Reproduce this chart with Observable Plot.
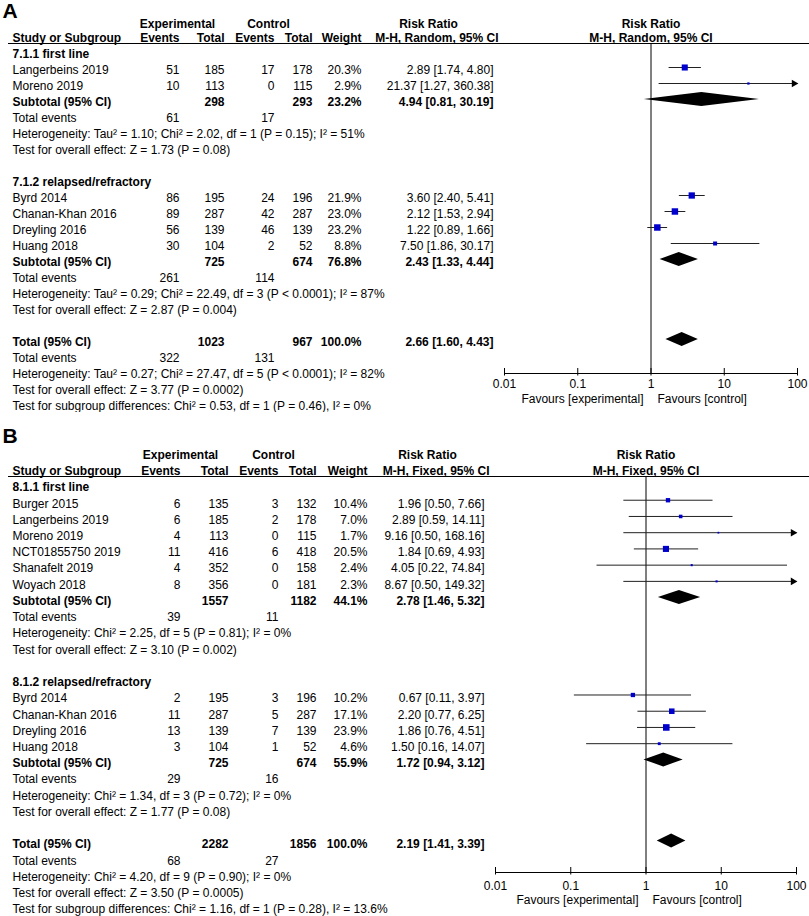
<!DOCTYPE html>
<html><head><meta charset="utf-8">
<script src="https://cdn.jsdelivr.net/npm/d3@7"></script>
<script src="https://cdn.jsdelivr.net/npm/@observablehq/plot@0.6"></script>
<style>
body{margin:0;background:#fff;}
#chart svg{display:block;}
</style></head><body><div id="chart"></div>
<script>
// ---------- Panel A (M-H, Random) ----------
const aMethod = "M-H, Random, 95% CI";
const aGroups = ["7.1.1 first line", "7.1.2 relapsed/refractory"];
const aStudies = ["Langerbeins 2019", "Moreno 2019", "Byrd 2014", "Chanan-Khan 2016", "Dreyling 2016", "Huang 2018"];
const aStudyGroup = [0, 0, 1, 1, 1, 1];
const aExpEvents = [51, 10, 86, 89, 56, 30];
const aExpTotal = [185, 113, 195, 287, 139, 104];
const aCtlEvents = [17, 0, 24, 42, 46, 2];
const aCtlTotal = [178, 115, 196, 287, 139, 52];
const aWeight = [20.3, 2.9, 21.9, 23.0, 23.2, 8.8];
const aRR = [2.89, 21.37, 3.60, 2.12, 1.22, 7.50];
const aLo = [1.74, 1.27, 2.40, 1.53, 0.89, 1.86];
const aHi = [4.80, 360.38, 5.41, 2.94, 1.66, 30.17];
const aSubExpTotal = [298, 725];
const aSubCtlTotal = [293, 674];
const aSubWeight = [23.2, 76.8];
const aSubRR = [4.94, 2.43];
const aSubLo = [0.81, 1.33];
const aSubHi = [30.19, 4.44];
const aSubExpEvents = [61, 261];
const aSubCtlEvents = [17, 114];
const aSubHet = ["Heterogeneity: Tau² = 1.10; Chi² = 2.02, df = 1 (P = 0.15); I² = 51%",
                 "Heterogeneity: Tau² = 0.29; Chi² = 22.49, df = 3 (P < 0.0001); I² = 87%"];
const aSubTest = ["Test for overall effect: Z = 1.73 (P = 0.08)", "Test for overall effect: Z = 2.87 (P = 0.004)"];
const aTotExpTotal = 1023, aTotCtlTotal = 967, aTotWeight = 100.0;
const aTotRR = 2.66, aTotLo = 1.60, aTotHi = 4.43;
const aTotExpEvents = 322, aTotCtlEvents = 131;
const aTotNotes = ["Heterogeneity: Tau² = 0.27; Chi² = 27.47, df = 5 (P < 0.0001); I² = 82%",
                   "Test for overall effect: Z = 3.77 (P = 0.0002)",
                   "Test for subgroup differences: Chi² = 0.53, df = 1 (P = 0.46), I² = 0%"];

// ---------- Panel B (M-H, Fixed) ----------
const bMethod = "M-H, Fixed, 95% CI";
const bGroups = ["8.1.1 first line", "8.1.2 relapsed/refractory"];
const bStudies = ["Burger 2015", "Langerbeins 2019", "Moreno 2019", "NCT01855750 2019", "Shanafelt 2019", "Woyach 2018",
                  "Byrd 2014", "Chanan-Khan 2016", "Dreyling 2016", "Huang 2018"];
const bStudyGroup = [0, 0, 0, 0, 0, 0, 1, 1, 1, 1];
const bExpEvents = [6, 6, 4, 11, 4, 8, 2, 11, 13, 3];
const bExpTotal = [135, 185, 113, 416, 352, 356, 195, 287, 139, 104];
const bCtlEvents = [3, 2, 0, 6, 0, 0, 3, 5, 7, 1];
const bCtlTotal = [132, 178, 115, 418, 158, 181, 196, 287, 139, 52];
const bWeight = [10.4, 7.0, 1.7, 20.5, 2.4, 2.3, 10.2, 17.1, 23.9, 4.6];
const bRR = [1.96, 2.89, 9.16, 1.84, 4.05, 8.67, 0.67, 2.20, 1.86, 1.50];
const bLo = [0.50, 0.59, 0.50, 0.69, 0.22, 0.50, 0.11, 0.77, 0.76, 0.16];
const bHi = [7.66, 14.11, 168.16, 4.93, 74.84, 149.32, 3.97, 6.25, 4.51, 14.07];
const bSubExpTotal = [1557, 725];
const bSubCtlTotal = [1182, 674];
const bSubWeight = [44.1, 55.9];
const bSubRR = [2.78, 1.72];
const bSubLo = [1.46, 0.94];
const bSubHi = [5.32, 3.12];
const bSubExpEvents = [39, 29];
const bSubCtlEvents = [11, 16];
const bSubHet = ["Heterogeneity: Chi² = 2.25, df = 5 (P = 0.81); I² = 0%",
                 "Heterogeneity: Chi² = 1.34, df = 3 (P = 0.72); I² = 0%"];
const bSubTest = ["Test for overall effect: Z = 3.10 (P = 0.002)", "Test for overall effect: Z = 1.77 (P = 0.08)"];
const bTotExpTotal = 2282, bTotCtlTotal = 1856, bTotWeight = 100.0;
const bTotRR = 2.19, bTotLo = 1.41, bTotHi = 3.39;
const bTotExpEvents = 68, bTotCtlEvents = 27;
const bTotNotes = ["Heterogeneity: Chi² = 4.20, df = 9 (P = 0.90); I² = 0%",
                   "Test for overall effect: Z = 3.50 (P = 0.0005)",
                   "Test for subgroup differences: Chi² = 1.16, df = 1 (P = 0.28), I² = 13.6%"];

// ---------- shared labels ----------
const headerCols = ["Study or Subgroup", "Events", "Total", "Events", "Total", "Weight"];
const tickValues = [0.01, 0.1, 1, 10, 100];
const tickLabels = ["0.01", "0.1", "1", "10", "100"];
const favours = ["Favours [experimental]", "Favours [control]"];

const FONT = "'Liberation Sans', Arial, Helvetica, sans-serif";

function pack(p) {
  const g = n => eval(p + n);
  return {
    method: g("Method"), groups: g("Groups"), studies: g("Studies"), studyGroup: g("StudyGroup"),
    expE: g("ExpEvents"), expT: g("ExpTotal"), ctlE: g("CtlEvents"), ctlT: g("CtlTotal"),
    w: g("Weight"), rr: g("RR"), lo: g("Lo"), hi: g("Hi"),
    subExpT: g("SubExpTotal"), subCtlT: g("SubCtlTotal"), subW: g("SubWeight"),
    subRR: g("SubRR"), subLo: g("SubLo"), subHi: g("SubHi"),
    subExpE: g("SubExpEvents"), subCtlE: g("SubCtlEvents"), subHet: g("SubHet"), subTest: g("SubTest"),
    totExpT: g("TotExpTotal"), totCtlT: g("TotCtlTotal"), totW: g("TotWeight"),
    totRR: g("TotRR"), totLo: g("TotLo"), totHi: g("TotHi"),
    totExpE: g("TotExpEvents"), totCtlE: g("TotCtlEvents"), totNotes: g("TotNotes")
  };
}

const ciTxt = (rr, lo, hi) => `${rr.toFixed(2)} [${lo.toFixed(2)}, ${hi.toFixed(2)}]`;

function buildRows(D) {
  const rows = [];
  let i = 0;
  D.groups.forEach((g, gi) => {
    rows.push({i: i++, kind: "group", label: g});
    D.studies.forEach((s, si) => {
      if (D.studyGroup[si] !== gi) return;
      rows.push({i: i++, kind: "study", label: s,
        expE: String(D.expE[si]), expT: String(D.expT[si]), ctlE: String(D.ctlE[si]), ctlT: String(D.ctlT[si]),
        wTxt: D.w[si].toFixed(1) + "%", w: D.w[si], rr: D.rr[si], lo: D.lo[si], hi: D.hi[si],
        ciTxt: ciTxt(D.rr[si], D.lo[si], D.hi[si])});
    });
    rows.push({i: i++, kind: "subtotal", label: "Subtotal (95% CI)",
      expT: String(D.subExpT[gi]), ctlT: String(D.subCtlT[gi]), wTxt: D.subW[gi].toFixed(1) + "%",
      rr: D.subRR[gi], lo: D.subLo[gi], hi: D.subHi[gi], ciTxt: ciTxt(D.subRR[gi], D.subLo[gi], D.subHi[gi])});
    rows.push({i: i++, kind: "events", label: "Total events", expE: String(D.subExpE[gi]), ctlE: String(D.subCtlE[gi])});
    rows.push({i: i++, kind: "note", label: D.subHet[gi]});
    rows.push({i: i++, kind: "note", label: D.subTest[gi]});
    i++; // blank row
  });
  rows.push({i: i++, kind: "total", label: "Total (95% CI)",
    expT: String(D.totExpT), ctlT: String(D.totCtlT), wTxt: D.totW.toFixed(1) + "%",
    rr: D.totRR, lo: D.totLo, hi: D.totHi, ciTxt: ciTxt(D.totRR, D.totLo, D.totHi)});
  rows.push({i: i++, kind: "events", label: "Total events", expE: String(D.totExpE), ctlE: String(D.totCtlE)});
  D.totNotes.forEach(n => rows.push({i: i++, kind: "note", label: n}));
  return rows;
}

function makePanel(D, L) {
  const rows = buildRows(D);
  const R = px => (px - L.rowTop) / L.rowH;
  const boldKinds = new Set(["group", "subtotal", "total"]);
  const reg = rows.filter(d => !boldKinds.has(d.kind));
  const bld = rows.filter(d => boldKinds.has(d.kind));
  const studies = rows.filter(d => d.kind === "study");
  const pooled = rows.filter(d => d.kind === "subtotal" || d.kind === "total");
  const xMax = 100;
  const h = 7 / L.rowH;
  const diamonds = pooled.flatMap(d => [
    {id: d.i, y: d.i - h, x1: d.rr, x2: d.rr},
    {id: d.i, y: d.i, x1: d.lo, x2: d.hi},
    {id: d.i, y: d.i + h, x1: d.rr, x2: d.rr}
  ]);

  const marks = [];
  marks.push(Plot.text([L.letter], {frameAnchor: "top-left", textAnchor: "start", lineAnchor: "top",
    dx: 2, dy: L.letterTop, fontSize: 21, fontWeight: "bold"}));
  marks.push(Plot.text(["Experimental"], {frameAnchor: "left", dx: L.expCenter, y: R(L.hdr1), textAnchor: "middle", fontWeight: "bold", fontSize: 12}));
  marks.push(Plot.text(["Control"], {frameAnchor: "left", dx: L.ctlCenter, y: R(L.hdr1), textAnchor: "middle", fontWeight: "bold", fontSize: 12}));
  marks.push(Plot.text(["Risk Ratio"], {frameAnchor: "left", dx: L.rrCenter, y: R(L.hdr1), textAnchor: "middle", fontWeight: "bold", fontSize: 12}));
  marks.push(Plot.text([D.method], {frameAnchor: "left", dx: L.rrHdrRight, y: R(L.hdr2), textAnchor: "end", fontWeight: "bold", fontSize: 12}));
  const hdrX = [L.cols.name, L.cols.expE, L.cols.expT, L.cols.ctlE, L.cols.ctlT, L.cols.w];
  headerCols.forEach((t, k) => {
    marks.push(Plot.text([t], {frameAnchor: "left", dx: hdrX[k], y: R(L.hdr2), textAnchor: k === 0 ? "start" : "end", fontWeight: "bold", fontSize: 12}));
  });
  marks.push(Plot.text(["Risk Ratio"], {x: 1, y: R(L.hdr1), textAnchor: "middle", fontWeight: "bold", fontSize: 12}));
  marks.push(Plot.text([D.method], {x: 1, y: R(L.hdr2), textAnchor: "middle", fontWeight: "bold", fontSize: 12}));
  marks.push(Plot.ruleY([R(L.underline)], {insetLeft: 8, stroke: "black"}));

  marks.push(Plot.text(reg, {y: "i", text: "label", frameAnchor: "left", dx: L.cols.name, textAnchor: "start", fontSize: 12}));
  marks.push(Plot.text(bld, {y: "i", text: "label", frameAnchor: "left", dx: L.cols.name, textAnchor: "start", fontSize: 12, fontWeight: "bold"}));
  for (const [key, x] of [["expE", L.cols.expE], ["expT", L.cols.expT], ["ctlE", L.cols.ctlE], ["ctlT", L.cols.ctlT], ["wTxt", L.cols.w], ["ciTxt", L.cols.ci]]) {
    for (const [data, fw] of [[reg, "normal"], [bld, "bold"]]) {
      const sub = data.filter(d => d[key] != null);
      if (sub.length) marks.push(Plot.text(sub, {y: "i", text: key, frameAnchor: "left", dx: x, textAnchor: "end", fontSize: 12, fontWeight: fw}));
    }
  }

  marks.push(Plot.ruleX([1], {y1: R(L.underline), y2: R(L.axisY), stroke: "black"}));
  marks.push(Plot.link(studies, {x1: "lo", x2: d => Math.min(d.hi, xMax), y1: "i", y2: "i", stroke: "#222", strokeWidth: 1, dy: L.fdy}));
  marks.push(Plot.dot(studies.filter(d => d.hi > xMax), {x: d => xMax, y: "i", symbol: "triangle", rotate: 90, r: 2.8, fill: "black", dy: L.fdy, dx: -3.5}));
  marks.push(Plot.dot(studies, {x: "rr", y: "i", r: "w", symbol: "square", fill: "#0000cc", dy: L.fdy}));
  marks.push(Plot.areaX(diamonds, {x1: "x1", x2: "x2", y: "y", z: "id", fill: "black", dy: L.fdy}));

  marks.push(Plot.ruleY([R(L.axisY)], {x1: 0.01, x2: 100, stroke: "black"}));
  marks.push(Plot.ruleX(tickValues, {y1: R(L.axisY - 5), y2: R(L.axisY + 2.5), stroke: "black"}));
  marks.push(Plot.text(tickValues, {x: d => d, y: R(L.tickY), text: (d, i) => tickLabels[i], textAnchor: "middle", fontSize: 12}));
  marks.push(Plot.text([favours[0]], {x: 1, y: R(L.favY), textAnchor: "end", dx: -7.5, fontSize: 12}));
  marks.push(Plot.text([favours[1]], {x: 1, y: R(L.favY), textAnchor: "start", dx: 6.5, fontSize: 12}));

  return Plot.plot({
    width: 809, height: L.height, margin: 0,
    x: {type: "log", domain: [0.01, 100], range: L.xRange, axis: null},
    y: {type: "linear", domain: [0, 1], range: [L.rowTop, L.rowTop + L.rowH], axis: null},
    r: {type: "sqrt", domain: [0, 25], range: [0, 3.8]},
    style: {fontFamily: FONT, fontSize: "12px", background: "white", color: "black", overflow: "hidden"},
    marks
  });
}

const layoutA = {
  letter: "A", letterTop: 3, height: 412, rowTop: 54, rowH: 16, xRange: [504, 797], fdy: -3,
  cols: {name: 12, expE: 179, expT: 224, ctlE: 274, ctlT: 312, w: 361, ci: 493},
  expCenter: 177, ctlCenter: 268, rrCenter: 428, rrHdrRight: 498,
  hdr1: 24, hdr2: 37.5, underline: 43, axisY: 373, tickY: 384, favY: 399
};
const layoutB = {
  letter: "B", letterTop: 16, height: 504, rowTop: 75, rowH: 16.23, xRange: [495, 796], fdy: -3.5,
  cols: {name: 12, expE: 180, expT: 228, ctlE: 278, ctlT: 316, w: 367, ci: 484},
  expCenter: 180, ctlCenter: 273, rrCenter: 427, rrHdrRight: 489,
  hdr1: 42.5, hdr2: 59, underline: 64, axisY: 460, tickY: 474, favY: 488
};

const root = document.getElementById("chart");
root.appendChild(makePanel(pack("a"), layoutA));
root.appendChild(makePanel(pack("b"), layoutB));
</script>
</body></html>
